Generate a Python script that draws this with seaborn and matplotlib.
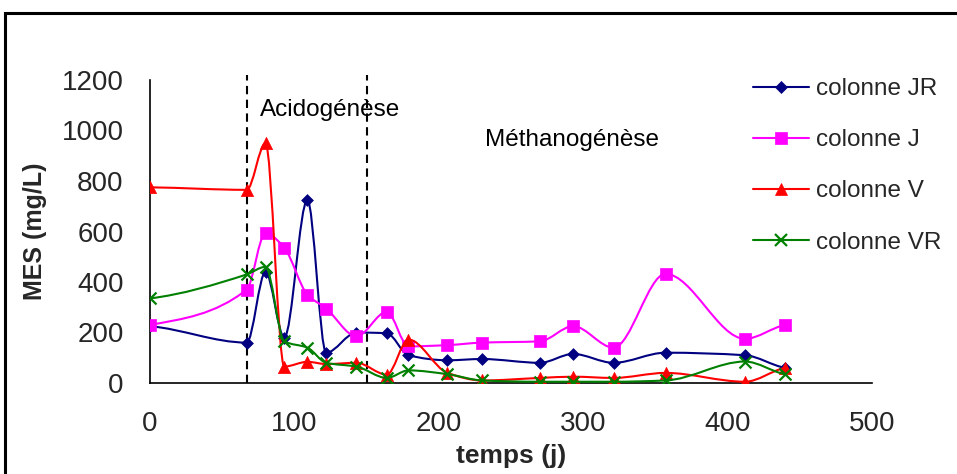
import numpy as np
import pandas as pd
import matplotlib
matplotlib.use("Agg")
import matplotlib.pyplot as plt
from matplotlib.path import Path
from matplotlib.patches import PathPatch, Rectangle
from matplotlib.lines import Line2D
import seaborn as sns

# --- data -----------------------------------------------------------------
temps = [0, 67, 80, 93, 109, 122, 143, 164, 179, 206, 230, 270, 293, 321, 357, 412, 440]
colonne_JR = [225, 160, 440, 180, 725, 120, 200, 197, 110, 90, 95, 80, 115, 80, 120, 110, 60]
colonne_J = [230, 370, 595, 535, 350, 295, 185, 282, 145, 150, 160, 165, 225, 140, 432, 175, 230]
colonne_V = [775, 765, 950, 65, 84, 75, 80, 33, 172, 40, 10, 20, 25, 20, 40, 5, 60]
colonne_VR = [335, 430, 460, 165, 140, 80, 65, 20, 50, 35, 10, 5, 5, 5, 10, 85, 35]

series_names = ["colonne JR", "colonne J", "colonne V", "colonne VR"]
series_values = [colonne_JR, colonne_J, colonne_V, colonne_VR]

phase_bounds = [67, 150]
phase_labels = ["Acidogénèse", "Méthanogénèse"]
phase_label_pos = [(76, 1080), (232, 962)]

x_ticks = [0, 100, 200, 300, 400, 500]
y_ticks = [0, 200, 400, 600, 800, 1000, 1200]

df = pd.concat(
    [pd.DataFrame({"temps": temps, "MES": v, "serie": n}) for n, v in zip(series_names, series_values)],
    ignore_index=True,
)

# --- styles ---------------------------------------------------------------
colors = {"colonne JR": "#000080", "colonne J": "#FF00FF", "colonne V": "#FF0000", "colonne VR": "#008000"}
markers = {"colonne JR": "D", "colonne J": "s", "colonne V": "^", "colonne VR": "x"}
msize = {"colonne JR": 6.0, "colonne J": 8.2, "colonne V": 8.8, "colonne VR": 8.6}

sns.set_style("white")
plt.rcParams["font.family"] = ["Liberation Sans", "DejaVu Sans"]

fig = plt.figure(figsize=(9.57, 4.74), dpi=100)
W, H = 957, 474
ax = fig.add_axes([150 / W, 1 - 383 / H, (872 - 150) / W, (383 - 80) / H])
ax.set_xlim(0, 500)
ax.set_ylim(0, 1200)


def smooth_path(xs, ys):
    """Smoothed line through the points: cubic Hermite segments with
    Fritsch-Carlson (monotone) slopes, written as Bezier curves."""
    x = np.asarray(xs, float)
    y = np.asarray(ys, float)
    n = len(x)
    h = np.diff(x)
    d = np.diff(y) / h
    m = np.zeros(n)
    for i in range(1, n - 1):
        if d[i - 1] * d[i] > 0:
            w1 = 2 * h[i] + h[i - 1]
            w2 = h[i] + 2 * h[i - 1]
            m[i] = (w1 + w2) / (w1 / d[i - 1] + w2 / d[i])
    m[0] = d[0] * 0.5
    m[-1] = d[-1] * 0.5
    verts = [(x[0], y[0])]
    codes = [Path.MOVETO]
    for i in range(n - 1):
        dx = h[i] / 3.0
        verts += [(x[i] + dx, y[i] + m[i] * dx),
                  (x[i + 1] - dx, y[i + 1] - m[i + 1] * dx),
                  (x[i + 1], y[i + 1])]
        codes += [Path.CURVE4] * 3
    return Path(np.array(verts), codes)


for k, name in enumerate(series_names):
    sub = df[df["serie"] == name]
    ax.add_patch(PathPatch(smooth_path(sub["temps"], sub["MES"]), facecolor="none",
                           edgecolor=colors[name], lw=1.5, zorder=2 + 2 * k))
    mk = markers[name]
    kw = dict(linewidth=1.6) if mk == "x" else dict(edgecolor=colors[name], linewidth=0.5)
    sns.scatterplot(data=sub, x="temps", y="MES", marker=mk, color=colors[name],
                    s=msize[name] ** 2, ax=ax, zorder=3 + 2 * k, legend=False, **kw)

# phase boundaries
for xb in phase_bounds:
    ax.axvline(xb, ymin=0, ymax=1.015, color="black", lw=1.5, ls=(0, (4, 2.6)), clip_on=False, zorder=1)
for lab, (tx, ty) in zip(phase_labels, phase_label_pos):
    ax.text(tx, ty, lab, fontsize=17.5, ha="left", va="center", color="black")

# axes
sns.despine(ax=ax)
for side in ("left", "bottom"):
    ax.spines[side].set_color("black")
    ax.spines[side].set_linewidth(1.2)
ax.set_xticks(x_ticks)
ax.set_yticks(y_ticks)
ax.tick_params(axis="both", direction="out", length=7, width=1.1, color="black", labelsize=20)
ax.tick_params(axis="x", pad=13)
ax.tick_params(axis="y", pad=12)
ax.set_xlabel("temps (j)", fontsize=19, fontweight="bold")
ax.set_ylabel("MES (mg/L)", fontsize=18, fontweight="bold")
ax.xaxis.set_label_coords(0.5, -0.2)
ax.yaxis.set_label_coords(-0.142, 0.5)

# legend
handles = [Line2D([], [], color=colors[n], lw=1.5, marker=markers[n],
                  markersize=msize[n],
                  markeredgewidth=1.6 if markers[n] == "x" else 0.5,
                  markeredgecolor=colors[n]) for n in series_names]
fig.legend(handles, series_names, loc="upper left", bbox_to_anchor=(753 / W, 1 - 78 / H),
           frameon=False, fontsize=17.5, handlelength=2.3, handletextpad=0.3,
           labelspacing=1.2, borderpad=0, borderaxespad=0)

# outer frame
fig.add_artist(Rectangle((5 / W, -0.1), 1.2, 1.1 - 13 / H, transform=fig.transFigure,
                         fill=False, edgecolor="black", lw=2.2))

fig.savefig("out.png", dpi=100)
